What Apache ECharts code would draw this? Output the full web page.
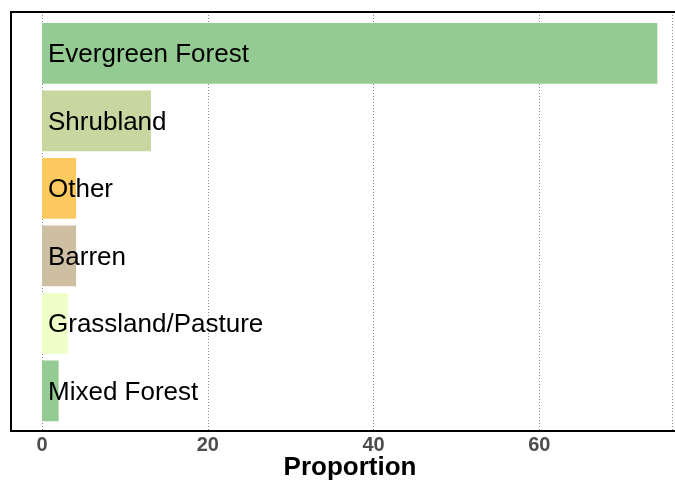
<!DOCTYPE html>
<html><head><meta charset="utf-8">
<script src="https://cdn.jsdelivr.net/npm/echarts@6/dist/echarts.min.js"></script>
<style>html,body{margin:0;padding:0;background:#fff}#c{width:675px;height:480px}</style>
</head><body><div id="c"></div>
<script>
const categories = ["Evergreen Forest","Shrubland","Other","Barren","Grassland/Pasture","Mixed Forest"];
const values = [74.0, 13.1, 4.1, 4.1, 3.1, 2.0];
const colors = ["#93cb93","#c8d7a0","#fec95f","#cebfa3","#eeffc8","#93cb93"];
const xTicks = [0, 20, 40, 60];
const xTitle = "Proportion";

const chart = echarts.init(document.getElementById('c'), null, {renderer:'canvas'});
const FONT = '"Liberation Sans", Arial, sans-serif';
chart.setOption({
  animation:false,
  grid:[
    {left:42, right:1, top:12, bottom:49},
    {left:42, right:1, top:19.5, height:405}
  ],
  xAxis:[
    {gridIndex:0, type:'value', min:0, max:76, interval:20,
     axisLine:{show:false}, axisTick:{show:false},
     axisLabel:{show:true, color:'#4d4d4d', fontSize:20, fontWeight:'bold', fontFamily:FONT, margin:4,
       formatter:v=> xTicks.includes(v) ? String(v) : ''},
     splitLine:{show:true, lineStyle:{color:'#888', type:[1,2], width:1}}},
    {gridIndex:1, type:'value', min:0, max:76, show:false, splitLine:{show:false}}
  ],
  yAxis:[
    {gridIndex:0, type:'category', data:categories, show:false},
    {gridIndex:1, type:'category', data:categories, inverse:true, show:false}
  ],
  graphic:[
    {type:'rect', shape:{x:11, y:12, width:680, height:419}, style:{fill:null, stroke:'#000', lineWidth:2}, z:10},
    {type:'text', x:350, y:468, style:{text:xTitle, font:'bold 26px "Liberation Sans", Arial, sans-serif', fill:'#000', textAlign:'center', textVerticalAlign:'middle'}, z:10}
  ],
  series:[{
    type:'bar', xAxisIndex:1, yAxisIndex:1,
    data: values.map((v,i)=>({value:v, itemStyle:{color:colors[i]}})),
    barCategoryGap:'10%',
    label:{show:true, position:'insideLeft', distance:6, offset:[0,2], formatter:p=>categories[p.dataIndex],
      color:'#000', fontSize:26, fontFamily:FONT}
  }]
});
</script></body></html>
